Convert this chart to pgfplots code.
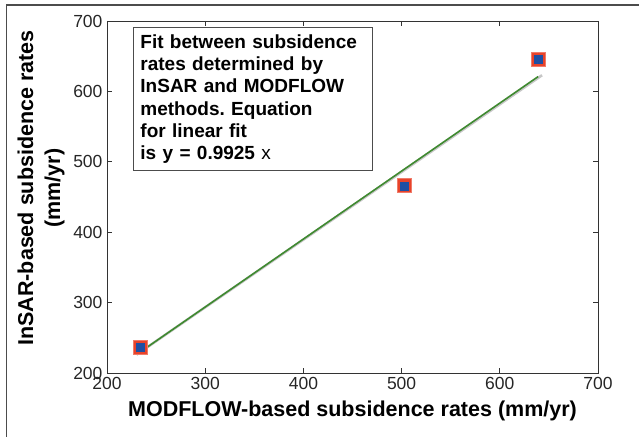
\documentclass[border=0pt]{standalone}
\usepackage{pgfplots}
\pgfplotsset{compat=1.18}
\usepackage{fontspec}
\setmainfont{Liberation Sans}
\frenchspacing
\definecolor{mkred}{HTML}{E8432A}
\definecolor{mkblue}{HTML}{1E4FA3}
\definecolor{fitgreen}{HTML}{3F8A30}
\definecolor{axgray}{HTML}{333333}
\begin{document}
\begin{tikzpicture}[x=1pt,y=1pt]
\useasboundingbox (0,0) rectangle (639,436);
\draw[gray!60!black, line width=1.3pt] (6.5,-30) rectangle (700,431);
\begin{axis}[
  at={(107pt,63pt)}, anchor=south west,
  scale only axis, width=491pt, height=352pt,
  xmin=200, xmax=700, ymin=200, ymax=700,
  xtick={200,300,...,700}, ytick={200,300,...,700},
  tick align=inside, major tick length=5pt,
  axis line style={axgray, line width=0.8pt},
  tick style={axgray, line width=0.8pt},
  /pgf/number format/assume math mode=true,
  ticklabel style={font=\fontsize{17.5}{19}\selectfont, text=black!85},
  xticklabel style={yshift=-1pt},
  yticklabel style={xshift=-1pt},
  xlabel={\textbf{MODFLOW-based subsidence rates (mm/yr)}},
  xlabel style={font=\fontsize{21.5}{24}\selectfont, at={(axis description cs:0.5,0)}, anchor=center, yshift=-38pt},
  ylabel={\textbf{InSAR-based subsidence rates}\\\textbf{(mm/yr)}},
  ylabel style={font=\fontsize{21.5}{27}\selectfont, align=center, at={(axis description cs:0,0.5)}, anchor=center, yshift=66pt, xshift=9pt},
  clip=false,
]
\addplot[color=black!22, line width=2.6pt] coordinates {(230,226) (643,623)};
\addplot[color=fitgreen, line width=1.6pt] coordinates {(234,230) (639,621)};
\addplot[only marks, mark=square*, mark size=7pt, mark options={fill=mkred, draw=mkred!70!white, line width=0.6pt}] coordinates {(234,236) (503,466) (639,646)};
\addplot[only marks, mark=square*, mark size=4pt, mark options={fill=mkblue, draw=mkblue}] coordinates {(234,236) (503,466) (639,646)};
\end{axis}
\node[draw=black!70, line width=0.9pt, fill=white, anchor=north west, minimum width=239pt, minimum height=143pt, text width=225pt, inner xsep=7pt, inner ysep=5pt, align=left, font=\fontsize{19}{22.3}\selectfont\bfseries] at (133,409)
{Fit between subsidence\\rates determined by\\InSAR and MODFLOW\\methods. Equation\\for linear fit\\is y = 0.9925 {\mdseries x}};
\end{tikzpicture}
\end{document}
